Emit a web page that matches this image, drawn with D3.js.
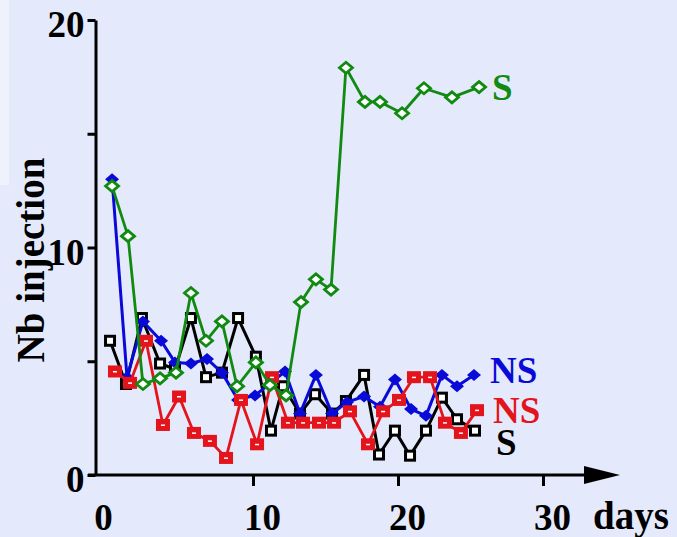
<!DOCTYPE html>
<html>
<head>
<meta charset="utf-8">
<script src="https://cdn.jsdelivr.net/npm/d3@7"></script>
<style>
  body { margin: 0; background: #e4eafb; }
  svg { display: block; }
  text { font-family: "Liberation Serif", "Times New Roman", serif; font-weight: bold; }
</style>
</head>
<body>
<div id="chart"></div>
<script>
// data (days, Nb injection)
const greenDays = [0.28, 1.38, 2.41, 3.59, 4.69, 5.72, 6.76, 7.86, 8.9, 10.2, 11.17, 12.28, 13.31, 14.34, 15.38, 16.41, 17.72, 18.76, 20.28, 21.79, 23.72, 25.59];
const greenVals = [12.7, 10.5, 4.0, 4.25, 4.5, 8.0, 5.9, 6.75, 3.9, 4.95, 3.95, 3.5, 7.6, 8.6, 8.15, 17.9, 16.4, 16.4, 15.9, 17.0, 16.6, 17.05];

const blueDays = [0.28, 1.31, 2.41, 3.66, 4.62, 5.72, 6.83, 7.86, 8.97, 10.14, 12.21, 13.24, 14.34, 15.45, 16.48, 17.66, 18.76, 19.79, 20.9, 21.93, 23.03, 24.07, 25.24];
const blueVals = [13.0, 4.3, 6.75, 5.9, 4.95, 4.9, 5.1, 4.5, 3.3, 3.5, 4.55, 2.7, 4.4, 2.7, 3.2, 3.45, 3.0, 4.2, 2.9, 2.6, 4.4, 3.9, 4.4];

const blackDays = [0.14, 1.24, 2.34, 3.59, 4.62, 5.72, 6.76, 7.86, 8.97, 10.2, 11.24, 12.07, 13.24, 14.28, 15.45, 16.41, 17.66, 18.69, 19.79, 20.83, 21.93, 23.03, 24.07, 25.31];
const blackVals = [5.9, 4.0, 6.9, 4.9, 4.65, 6.9, 4.3, 4.5, 6.9, 5.2, 1.95, 3.9, 2.7, 3.55, 2.7, 3.25, 4.4, 0.9, 1.95, 0.85, 1.95, 3.4, 2.45, 1.95];

const redDays = [0.48, 1.52, 2.62, 3.79, 4.9, 5.93, 7.03, 8.14, 9.17, 10.28, 11.31, 12.41, 13.45, 14.55, 15.59, 16.69, 17.93, 18.97, 20.07, 21.1, 22.21, 23.24, 24.34, 25.45];
const redVals = [4.55, 4.05, 5.9, 2.2, 3.45, 1.85, 1.5, 0.75, 3.3, 1.35, 4.3, 2.3, 2.3, 2.3, 2.3, 2.8, 1.35, 2.8, 3.3, 4.3, 4.3, 2.3, 1.85, 2.85];

const xTicks = [0, 10, 20, 30];
const yTicks = [0, 5, 10, 15, 20];
const yLabelled = [0, 10, 20];

const width = 677, height = 537;

const svg = d3.select("#chart").append("svg")
    .attr("width", width)
    .attr("height", height);

svg.append("rect").attr("width", width).attr("height", height).attr("fill", "#e4eafb");
svg.append("rect").attr("width", 9).attr("height", 185).attr("fill", "#eef2fb");

const x = d3.scaleLinear().domain([0, 30]).range([108, 543]);
const y = d3.scaleLinear().domain([0, 20]).range([475, 20]);

// y axis
const yAxis = svg.append("g")
    .attr("transform", "translate(95.5,0)")
    .call(d3.axisLeft(y).tickValues(yTicks).tickSize(8).tickSizeOuter(0)
        .tickFormat(d => yLabelled.includes(d) ? d : ""));
yAxis.select(".domain").attr("stroke-width", 3);
yAxis.selectAll(".tick line").attr("stroke-width", 3);
yAxis.selectAll(".tick text")
    .attr("font-size", 37)
    .attr("font-family", "Liberation Serif")
    .attr("font-weight", "bold")
    .attr("fill", "#000")
    .attr("x", -11)
    .attr("dy", "0.45em");

// x axis
const xAxis = svg.append("g")
    .attr("transform", "translate(0,475)")
    .call(d3.axisBottom(x).tickValues(xTicks).tickSize(11).tickSizeOuter(0));
xAxis.select(".domain").remove();
xAxis.selectAll(".tick line").attr("stroke-width", 3)
    .attr("display", d => d === 0 ? "none" : null);
xAxis.selectAll(".tick text")
    .attr("font-size", 37)
    .attr("font-family", "Liberation Serif")
    .attr("font-weight", "bold")
    .attr("fill", "#000")
    .attr("y", 28)
    .attr("dx", d => d === 0 ? -5 : 9)
    .attr("dy", "0.72em");

svg.append("line")
    .attr("x1", 88).attr("x2", 590)
    .attr("y1", y(0)).attr("y2", y(0))
    .attr("stroke", "#000").attr("stroke-width", 3);
svg.append("path")
    .attr("d", `M584,${y(0) - 9}L620,${y(0)}L584,${y(0) + 9}Z`)
    .attr("fill", "#000");

svg.append("text").attr("x", 593).attr("y", 529).attr("font-size", 39).text("days");

svg.append("text")
    .attr("transform", "translate(44,260) rotate(-90)")
    .attr("text-anchor", "middle")
    .attr("font-size", 39)
    .text("Nb injection");

const line = d3.line().x(d => x(d[0])).y(d => y(d[1]));

function drawSeries(days, vals, color, width) {
    const pts = days.map((d, i) => [d, vals[i]]);
    svg.append("path")
        .datum(pts)
        .attr("d", line)
        .attr("fill", "none")
        .attr("stroke", color)
        .attr("stroke-width", width)
        .attr("stroke-linejoin", "round");
    return svg.append("g").selectAll("g")
        .data(pts)
        .enter().append("g")
        .attr("transform", d => `translate(${x(d[0])},${y(d[1])})`);
}

// black S (open squares)
drawSeries(blackDays, blackVals, "#000", 3)
    .append("rect")
    .attr("x", -4.5).attr("y", -4.5).attr("width", 9).attr("height", 9)
    .attr("fill", "#fff").attr("stroke", "#000").attr("stroke-width", 3);

// blue NS (filled diamonds)
drawSeries(blueDays, blueVals, "#0a0ad8", 3)
    .append("path")
    .attr("d", "M-7,0L0,-6L7,0L0,6Z")
    .attr("fill", "#0a0ad8");

// red NS (filled squares)
const red = drawSeries(redDays, redVals, "#e3141c", 2.8);
red.append("rect")
    .attr("x", -7).attr("y", -6).attr("width", 14).attr("height", 12)
    .attr("fill", "#e3141c");
red.append("rect")
    .attr("x", -2).attr("y", -0.5).attr("width", 4).attr("height", 1.5)
    .attr("fill", "#fff");

// green S (open diamonds)
drawSeries(greenDays, greenVals, "#108a10", 2.8)
    .append("path")
    .attr("d", "M-6.5,0L0,-5.5L6.5,0L0,5.5Z")
    .attr("fill", "#fff").attr("stroke", "#108a10").attr("stroke-width", 2.8);

// series labels
svg.append("text").attr("x", 492).attr("y", 100).attr("font-size", 37).attr("fill", "#108a10").text("S");
svg.append("text").attr("x", 490).attr("y", 383).attr("font-size", 37).attr("fill", "#0a0ad8").text("NS");
svg.append("text").attr("x", 493).attr("y", 423).attr("font-size", 37).attr("fill", "#e3141c").text("NS");
svg.append("text").attr("x", 496).attr("y", 455).attr("font-size", 37).attr("fill", "#000").text("S");
</script>
</body>
</html>
